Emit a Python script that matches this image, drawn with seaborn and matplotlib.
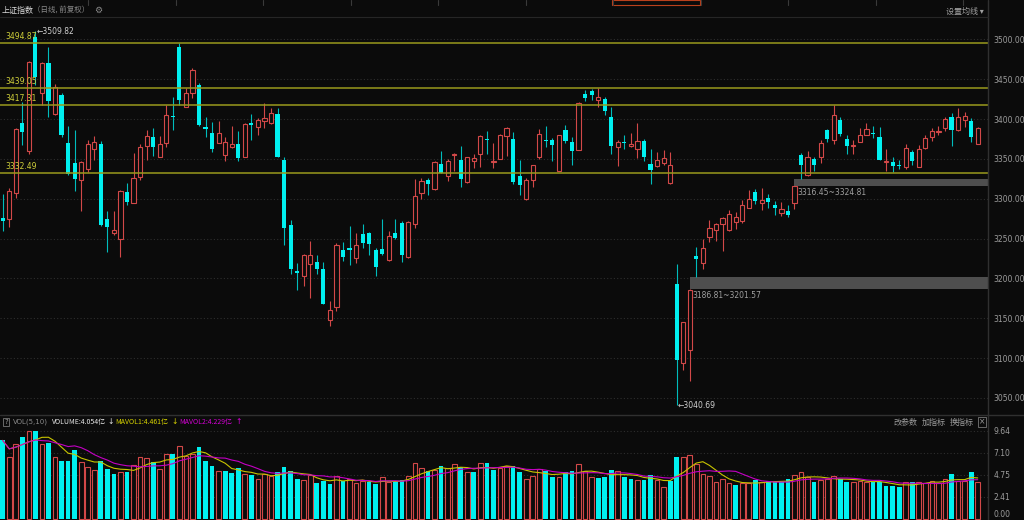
import numpy as np
import pandas as pd
import matplotlib.pyplot as plt
import seaborn as sns
from matplotlib.patches import Rectangle

# Style sombre façon logiciel boursier
sns.set_theme(style='dark', rc={'axes.facecolor': '#0b0b0b', 'figure.facecolor': '#0b0b0b'})
plt.rcParams['font.family'] = ['Noto Sans CJK SC', 'DejaVu Sans']

# Données (150 séances)
opens = [3275.7, 3274.9, 3306.7, 3395.0, 3359.4, 3502.5, 3432.2, 3470.3, 3406.3, 3429.7,
         3369.9, 3344.7, 3323.8, 3337.6, 3362.3, 3368.2, 3274.9, 3256.5, 3249.8, 3308.3,
         3295.0, 3327.6, 3366.5, 3377.0, 3352.7, 3370.3, 3403.3, 3490.4, 3415.5, 3432.2,
         3443.1, 3390.4, 3382.4, 3370.3, 3355.2, 3364.4, 3368.2, 3352.7, 3395.0, 3389.5,
         3397.0, 3394.5, 3406.7, 3348.1, 3266.5, 3209.2, 3202.5, 3218.4, 3220.1, 3211.7,
         3147.7, 3164.4, 3235.1, 3238.5, 3225.9, 3255.6, 3256.5, 3235.5, 3237.2, 3222.6,
         3256.5, 3269.9, 3226.3, 3268.6, 3307.5, 3323.8, 3311.7, 3343.5, 3328.4, 3354.8,
         3348.5, 3320.5, 3347.7, 3356.5, 3374.9, 3345.6, 3350.2, 3378.2, 3374.9, 3328.0,
         3300.0, 3323.8, 3352.7, 3373.2, 3373.2, 3335.1, 3385.8, 3371.1, 3361.5, 3430.9,
         3434.7, 3424.2, 3425.1, 3402.1, 3364.8, 3371.1, 3365.7, 3362.7, 3371.9, 3343.1,
         3340.6, 3344.3, 3319.2, 3192.9, 3093.7, 3109.6, 3228.0, 3219.2, 3251.4, 3260.2,
         3267.8, 3261.1, 3270.3, 3272.4, 3288.3, 3308.3, 3295.0, 3300.8, 3292.4, 3281.6,
         3284.1, 3295.0, 3354.8, 3330.1, 3350.2, 3352.7, 3386.6, 3374.0, 3398.3, 3375.3,
         3365.7, 3371.5, 3380.3, 3382.0, 3377.0, 3346.4, 3346.4, 3342.2, 3339.7, 3358.6,
         3340.1, 3363.2, 3377.8, 3383.7, 3388.7, 3402.1, 3385.7, 3398.3, 3397.5, 3369.0]
closes = [3272.4, 3310.0, 3387.0, 3383.7, 3471.5, 3453.1, 3470.3, 3423.0, 3439.7, 3380.3,
          3331.4, 3324.7, 3345.6, 3368.6, 3370.7, 3267.3, 3264.0, 3260.2, 3310.0, 3295.8,
          3326.3, 3364.4, 3379.1, 3365.2, 3368.6, 3404.6, 3402.1, 3423.4, 3432.2, 3461.9,
          3392.9, 3387.0, 3362.7, 3382.0, 3370.7, 3368.2, 3351.0, 3393.3, 3393.0, 3398.3,
          3400.8, 3407.1, 3352.3, 3263.2, 3211.3, 3207.1, 3229.7, 3229.7, 3211.3, 3168.2,
          3160.7, 3241.4, 3227.2, 3236.0, 3241.4, 3244.8, 3243.1, 3213.8, 3230.5, 3252.7,
          3250.6, 3229.7, 3270.3, 3303.7, 3322.6, 3318.4, 3346.4, 3332.6, 3346.8, 3356.0,
          3325.1, 3351.9, 3350.6, 3379.1, 3374.0, 3346.8, 3380.3, 3388.7, 3320.9, 3317.6,
          3323.8, 3341.8, 3381.1, 3372.4, 3366.9, 3379.5, 3371.9, 3359.4, 3419.6, 3426.3,
          3430.5, 3427.2, 3409.6, 3365.7, 3370.7, 3370.3, 3369.0, 3372.8, 3351.9, 3336.4,
          3348.5, 3350.6, 3342.2, 3097.1, 3144.8, 3186.0, 3223.8, 3237.6, 3262.7, 3267.8,
          3276.1, 3280.3, 3276.5, 3291.6, 3300.0, 3296.6, 3297.9, 3295.8, 3288.3, 3286.6,
          3279.5, 3315.9, 3342.7, 3351.9, 3341.8, 3369.4, 3375.3, 3404.6, 3381.1, 3366.2,
          3367.0, 3380.3, 3387.0, 3381.1, 3348.5, 3347.3, 3341.4, 3340.6, 3363.2, 3347.7,
          3361.9, 3376.5, 3384.5, 3384.9, 3400.0, 3385.7, 3402.5, 3403.3, 3377.8, 3389.1]
highs = [3305.8, 3313.4, 3388.7, 3421.3, 3472.4, 3509.82, 3471.0, 3489.9, 3443.9, 3432.6,
         3391.2, 3386.6, 3347.7, 3374.0, 3379.1, 3371.9, 3284.9, 3284.9, 3310.9, 3319.2,
         3357.3, 3369.0, 3386.6, 3388.7, 3378.2, 3418.0, 3427.2, 3495.4, 3438.9, 3464.0,
         3445.2, 3402.1, 3396.2, 3397.0, 3377.8, 3391.2, 3385.3, 3395.0, 3406.3, 3401.2,
         3419.6, 3413.8, 3413.8, 3351.9, 3273.6, 3219.2, 3230.5, 3246.4, 3228.9, 3220.1,
         3172.0, 3244.3, 3245.6, 3265.3, 3256.5, 3268.2, 3258.1, 3237.6, 3274.0, 3259.8,
         3274.0, 3272.4, 3272.4, 3324.7, 3325.9, 3325.9, 3347.7, 3359.4, 3349.3, 3357.3,
         3366.1, 3352.7, 3356.0, 3380.3, 3385.3, 3369.9, 3381.1, 3389.5, 3383.7, 3348.5,
         3325.9, 3342.7, 3387.4, 3391.6, 3376.1, 3380.3, 3392.9, 3377.8, 3421.3, 3436.4,
         3437.6, 3438.9, 3427.2, 3414.6, 3373.6, 3380.3, 3382.8, 3394.5, 3374.9, 3361.9,
         3358.6, 3361.1, 3358.6, 3218.0, 3145.2, 3186.81, 3239.7, 3249.4, 3273.2, 3269.0,
         3277.0, 3286.2, 3283.2, 3298.3, 3310.4, 3312.5, 3312.9, 3305.8, 3297.0, 3295.8,
         3292.0, 3316.45, 3356.9, 3359.4, 3352.7, 3373.6, 3387.8, 3417.5, 3402.9, 3379.5,
         3373.6, 3388.7, 3394.5, 3390.8, 3389.9, 3362.7, 3351.9, 3348.1, 3368.6, 3361.1,
         3366.9, 3379.5, 3388.7, 3390.8, 3402.1, 3407.1, 3413.8, 3408.3, 3401.2, 3390.4]
lows = [3259.0, 3264.0, 3300.8, 3367.8, 3356.0, 3443.1, 3418.0, 3402.1, 3404.6, 3377.0,
        3330.1, 3309.2, 3284.1, 3333.5, 3348.9, 3266.1, 3233.0, 3254.0, 3227.2, 3291.6,
        3294.1, 3323.8, 3348.9, 3353.1, 3352.0, 3364.4, 3386.6, 3418.0, 3415.0, 3426.3,
        3390.8, 3377.0, 3358.6, 3370.0, 3346.8, 3364.0, 3347.7, 3352.0, 3374.0, 3380.3,
        3388.7, 3394.0, 3352.0, 3242.2, 3205.4, 3185.8, 3189.9, 3175.3, 3205.4, 3167.5,
        3140.6, 3159.4, 3222.2, 3217.1, 3219.6, 3238.1, 3228.9, 3203.3, 3228.9, 3222.0,
        3250.0, 3220.5, 3226.0, 3263.2, 3300.0, 3305.0, 3310.9, 3332.0, 3322.6, 3334.3,
        3315.0, 3320.0, 3338.5, 3340.1, 3356.0, 3338.5, 3350.0, 3353.5, 3318.4, 3305.0,
        3298.7, 3314.2, 3349.4, 3364.4, 3347.7, 3334.3, 3369.9, 3341.8, 3361.0, 3423.0,
        3424.2, 3414.6, 3404.6, 3356.0, 3340.6, 3361.9, 3364.4, 3351.0, 3346.8, 3318.4,
        3339.3, 3342.7, 3319.0, 3040.69, 3085.3, 3070.7, 3201.57, 3212.1, 3245.6, 3247.3,
        3233.9, 3259.0, 3261.9, 3269.9, 3288.0, 3293.7, 3286.2, 3288.3, 3279.9, 3277.8,
        3277.4, 3287.4, 3324.81, 3328.4, 3335.1, 3344.3, 3370.7, 3368.6, 3378.2, 3356.5,
        3356.0, 3370.7, 3379.5, 3376.1, 3348.0, 3335.1, 3333.5, 3337.6, 3337.6, 3341.8,
        3339.6, 3362.8, 3371.9, 3380.3, 3384.5, 3366.5, 3385.3, 3389.5, 3370.7, 3368.6]
# volumes en centaines de millions (亿)
volumes = [8.58, 6.72, 8.21, 8.98, 9.64, 9.60, 8.14, 8.25, 6.79, 6.35,
           6.35, 7.48, 6.24, 5.66, 5.33, 6.35, 5.44, 4.85, 5.15, 5.15,
           5.88, 6.79, 6.68, 6.24, 5.44, 7.04, 7.04, 7.99, 6.90, 7.04,
           7.85, 6.31, 5.77, 5.22, 5.22, 4.96, 5.58, 4.85, 4.78, 4.31,
           4.93, 4.67, 5.11, 5.69, 5.22, 4.34, 4.20, 4.78, 3.87, 4.12,
           3.80, 4.71, 4.16, 4.31, 3.87, 4.16, 3.98, 3.80, 4.60, 4.05,
           3.98, 4.20, 4.71, 6.13, 5.58, 5.22, 5.29, 5.77, 5.51, 5.95,
           5.69, 5.07, 5.07, 6.13, 6.06, 5.33, 5.58, 5.80, 5.73, 5.07,
           4.34, 4.67, 5.44, 5.22, 4.53, 4.53, 5.07, 5.22, 5.95, 5.22,
           4.60, 4.49, 4.53, 5.29, 5.22, 4.60, 4.34, 4.20, 4.23, 4.78,
           4.23, 3.50, 4.12, 6.72, 6.72, 6.94, 5.99, 4.85, 4.71, 4.05,
           4.34, 3.87, 3.69, 3.87, 3.87, 4.23, 4.05, 4.12, 4.05, 3.98,
           4.38, 4.82, 5.15, 4.53, 4.05, 4.27, 4.34, 4.71, 4.34, 3.98,
           4.05, 4.16, 4.05, 4.05, 4.05, 3.54, 3.54, 3.43, 3.98, 3.98,
           4.05, 3.94, 4.12, 3.94, 4.34, 4.89, 4.12, 4.12, 5.15, 4.05]

levels = [3494.87, 3439.05, 3417.31, 3332.49]
# zones de gap : (indice de la bougie de départ, bas, haut)
gaps = [(105, 3186.81, 3201.57), (121, 3316.45, 3324.81)]
price_ticks = [3050, 3100, 3150, 3200, 3250, 3300, 3350, 3400, 3450, 3500]
vol_ticks = [0, 2.41, 4.82, 7.23, 9.64]
vol_tick_labels = ['0.00', '2.41', '4.75', '7.10', '9.64']

BG = '#0b0b0b'
RED = '#d24848'
CYAN = '#00f0f0'
CYAN_WICK = '#00bcbc'
GRID = '#2e2e2e'
LINE = '#303030'
AXTXT = '#9c9c9c'

df = pd.DataFrame({'open': opens, 'close': closes, 'high': highs, 'low': lows, 'vol': volumes})
df['idx'] = np.arange(len(df))
df['up'] = df['close'] >= df['open']
prev_close = df['close'].shift(1).fillna(df['open'])
df['vol_up'] = df['close'] >= prev_close
df['ma5'] = df['vol'].rolling(5, min_periods=1).mean()
df['ma10'] = df['vol'].rolling(10, min_periods=1).mean()

W, H = 1024, 520
def fx(px):
    return px / W
def fy(py):
    return 1 - py / H

fig = plt.figure(figsize=(10.24, 5.2), dpi=100, facecolor=BG)
ax = fig.add_axes([0, fy(415), fx(988), (415 - 17) / H])
vax = fig.add_axes([0, 0, fx(988), fy(415)], sharex=ax)

# ---------- graphique des prix ----------
ax.set_facecolor(BG)
ax.set_xlim(-0.41, 150.57)
ax.set_ylim(3028.6, 3528.0)
for p in price_ticks:
    ax.axhline(p, color=GRID, lw=0.8, ls=(0, (1, 2)), zorder=0)

wick_cols = np.where(df['up'], RED, CYAN_WICK)
ax.vlines(df['idx'], df['low'], df['high'], colors=wick_cols, lw=0.8, zorder=2)
body_bot = np.minimum(df['open'], df['close'])
body_h = np.maximum((df['close'] - df['open']).abs(), 0.9)
up = df['up'].values
ax.bar(df['idx'][up], body_h[up], bottom=body_bot[up], width=0.64,
       facecolor=BG, edgecolor=RED, linewidth=0.8, zorder=3)
ax.bar(df['idx'][~up], body_h[~up], bottom=body_bot[~up], width=0.64,
       color=CYAN, linewidth=0, zorder=3)

for lv in levels:
    ax.axhline(lv, color='#9a9a1c', lw=1.1, zorder=4)
    ax.annotate(f'{lv:.2f}', xy=(0.005, lv), xycoords=('axes fraction', 'data'),
                xytext=(0, 1.5), textcoords='offset points', va='bottom', ha='left',
                color='#cfcf3a', fontsize=5.5, family='DejaVu Sans', zorder=5)

for start, lo, hi in gaps:
    ax.add_patch(Rectangle((start, lo), 152 - start, hi - lo, facecolor='#4e4e4e',
                           edgecolor='none', zorder=1.5))
    ax.annotate(f'{lo:.2f}~{hi:.2f}', xy=(start, lo), xytext=(2, -1.5),
                textcoords='offset points', va='top', ha='left', color='#a0a0a0',
                fontsize=5.5, family='DejaVu Sans', zorder=5)

imax = int(df['high'].idxmax())
imin = int(df['low'].idxmin())
ax.annotate(f'←{df["high"][imax]:.2f}', xy=(imax, df['high'][imax]), xytext=(1, 0),
            textcoords='offset points', va='center', ha='left', color='#d0d0d0',
            fontsize=5.5, family='DejaVu Sans', zorder=6)
ax.annotate(f'←{df["low"][imin]:.2f}', xy=(imin, df['low'][imin]), xytext=(1, 0),
            textcoords='offset points', va='center', ha='left', color='#d0d0d0',
            fontsize=5.5, family='DejaVu Sans', zorder=6)

ax.yaxis.tick_right()
ax.set_yticks(price_ticks)
ax.set_yticklabels([f'{p:.2f}' for p in price_ticks], family='DejaVu Sans')
ax.tick_params(axis='y', length=0, pad=4, labelsize=5.5, labelcolor=AXTXT)
ax.tick_params(axis='x', bottom=False, labelbottom=False)
ax.grid(False)
for s in ax.spines.values():
    s.set_visible(False)

# ---------- volumes ----------
vax.set_facecolor(BG)
vax.set_ylim(-0.14, 11.36)
for t in vol_ticks[1:]:
    vax.axhline(t, color=GRID, lw=0.8, ls=(0, (1, 2)), zorder=0)
vu = df['vol_up'].values
vax.bar(df['idx'][vu], df['vol'][vu], width=0.72, facecolor=BG, edgecolor=RED,
        linewidth=0.8, zorder=2)
vax.bar(df['idx'][~vu], df['vol'][~vu], width=0.72, color=CYAN, linewidth=0, zorder=2)
sns.lineplot(data=df, x='idx', y='ma5', ax=vax, color='#c8c400', lw=0.8, zorder=3)
sns.lineplot(data=df, x='idx', y='ma10', ax=vax, color='#c400c4', lw=0.8, zorder=3)
vax.set_xlabel('')
vax.set_ylabel('')
vax.yaxis.tick_right()
vax.set_yticks(vol_ticks)
vax.set_yticklabels(vol_tick_labels, family='DejaVu Sans')
vax.get_yticklabels()[0].set_va('bottom')
vax.tick_params(axis='y', length=0, pad=4, labelsize=5.5, labelcolor=AXTXT)
vax.tick_params(axis='x', bottom=False, labelbottom=False)
vax.grid(False)
for s in vax.spines.values():
    s.set_visible(False)

# ---------- traits de séparation ----------
fig.add_artist(plt.Line2D([fx(988), fx(988)], [0, 1], color=LINE, lw=1))
fig.add_artist(plt.Line2D([0, fx(988)], [fy(17), fy(17)], color='#262626', lw=0.8))
fig.add_artist(plt.Line2D([0, 1], [fy(415), fy(415)], color=LINE, lw=1))
for xs in np.arange(88, 988, 87.5):
    fig.add_artist(plt.Line2D([fx(xs), fx(xs)], [fy(0), fy(5)], color='#3a3a3a', lw=0.8))
fig.add_artist(Rectangle((fx(612), fy(5)), fx(88), 5 / H, facecolor='none',
                         edgecolor='#b8401c', lw=0.8))

# ---------- textes d'en-tête ----------
fig.text(fx(2), fy(10), '上证指数', color='#dcdcdc', fontsize=5.8, va='center')
fig.text(fx(33), fy(10), '（日线, 前复权）', color='#8a8a8a', fontsize=5.4, va='center')
fig.text(fx(94), fy(10), '⚙', color='#8a8a8a', fontsize=6.5, va='center', family='DejaVu Sans')
fig.text(fx(946), fy(11), '设置均线 ▾', color='#a0a0a0', fontsize=5.8, va='center')

hy = fy(422)
fig.text(fx(4), hy, '?', color='#9a9a9a', fontsize=5, va='center', family='DejaVu Sans',
         bbox=dict(boxstyle='square,pad=0.15', facecolor=BG, edgecolor='#777777', lw=0.6))
fig.text(fx(13), hy, 'VOL(5,10)', color='#8a8a8a', fontsize=5, va='center', family='DejaVu Sans')
fig.text(fx(52), hy, 'VOLUME:4.054亿', color='#e6e6e6', fontsize=5, va='center')
fig.text(fx(107), hy, '↓', color='#e6e6e6', fontsize=5.5, va='center', family='DejaVu Sans')
fig.text(fx(115), hy, 'MAVOL1:4.461亿', color='#d8d400', fontsize=5, va='center')
fig.text(fx(171), hy, '↓', color='#d8d400', fontsize=5.5, va='center', family='DejaVu Sans')
fig.text(fx(179), hy, 'MAVOL2:4.229亿', color='#d400d4', fontsize=5, va='center')
fig.text(fx(235), hy, '↑', color='#d400d4', fontsize=5.5, va='center', family='DejaVu Sans')
fig.text(fx(894), hy, '改参数', color='#9a9a9a', fontsize=5.8, va='center')
fig.text(fx(922), hy, '加指标', color='#9a9a9a', fontsize=5.8, va='center')
fig.text(fx(950), hy, '换指标', color='#9a9a9a', fontsize=5.8, va='center')
fig.text(fx(979), hy, '×', color='#9a9a9a', fontsize=5.5, va='center', family='DejaVu Sans',
         bbox=dict(boxstyle='square,pad=0.1', facecolor=BG, edgecolor='#777777', lw=0.6))

fig.savefig('out.png', dpi=100, facecolor=BG)
